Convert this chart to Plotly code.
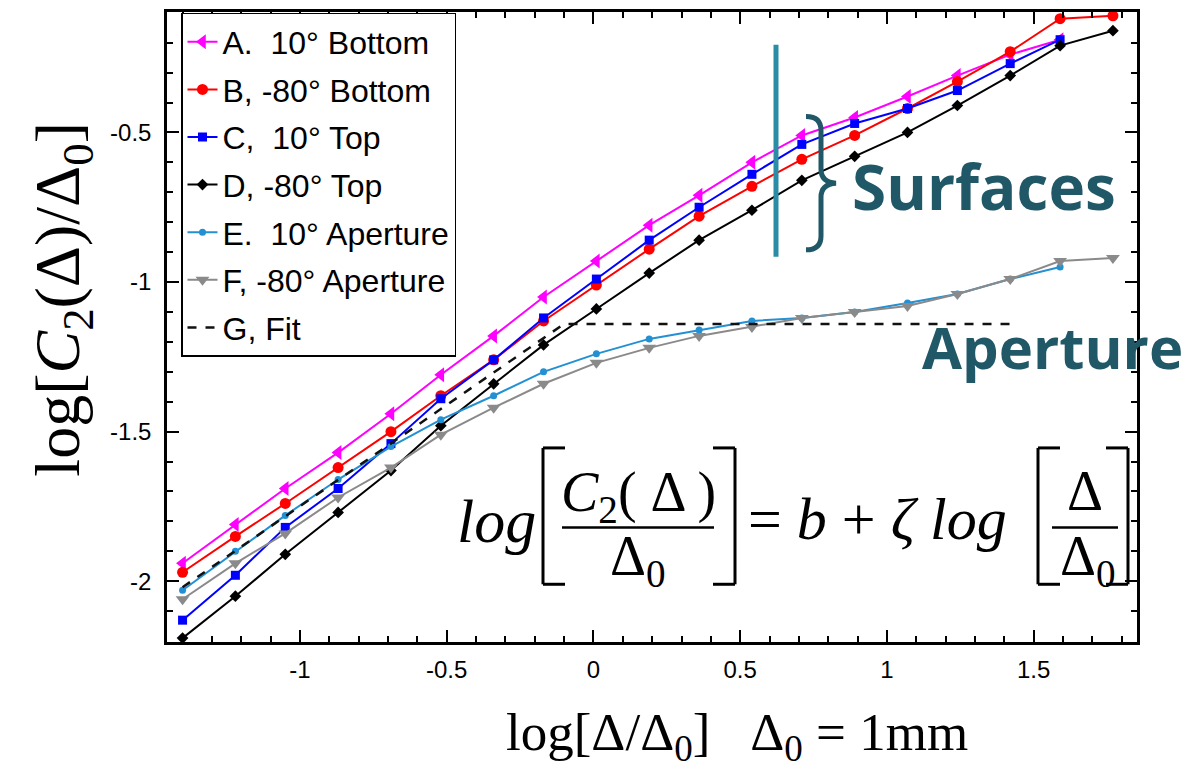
import plotly.graph_objects as go

# ---------------- data ----------------
x_log = [-1.40, -1.22, -1.05, -0.87, -0.69, -0.52, -0.34, -0.17, 0.01, 0.19,
         0.36, 0.54, 0.71, 0.89, 1.07, 1.24, 1.42, 1.59, 1.77]

a_10_bottom = [-1.94, -1.81, -1.69, -1.57, -1.44, -1.31, -1.18, -1.05, -0.93, -0.81,
               -0.71, -0.60, -0.51, -0.45, -0.38, -0.31, -0.24, -0.19]
b_80_bottom = [-1.97, -1.85, -1.74, -1.62, -1.50, -1.38, -1.26, -1.13, -1.01, -0.89,
               -0.78, -0.68, -0.59, -0.51, -0.42, -0.33, -0.23, -0.12, -0.11]
c_10_top = [-2.13, -1.98, -1.82, -1.69, -1.54, -1.39, -1.26, -1.12, -0.99, -0.86,
            -0.75, -0.64, -0.54, -0.47, -0.42, -0.36, -0.27, -0.19]
d_80_top = [-2.19, -2.05, -1.91, -1.77, -1.63, -1.48, -1.34, -1.21, -1.09, -0.97,
            -0.86, -0.76, -0.66, -0.58, -0.50, -0.41, -0.31, -0.21, -0.16]
e_10_aperture = [-2.03, -1.90, -1.78, -1.66, -1.55, -1.46, -1.38, -1.30, -1.24, -1.19,
                 -1.16, -1.13, -1.12, -1.10, -1.07, -1.04, -0.99, -0.95]
f_80_aperture = [-2.06, -1.94, -1.84, -1.72, -1.62, -1.51, -1.42, -1.34, -1.27, -1.22,
                 -1.18, -1.15, -1.12, -1.10, -1.08, -1.04, -0.99, -0.93, -0.92]
fit_x = [-1.40, -0.10, 1.44]
fit_y = [-2.02, -1.14, -1.14]

series_names = ["A.  10° Bottom", "B, -80° Bottom", "C,  10° Top", "D, -80° Top",
                "E.  10° Aperture", "F, -80° Aperture", "G, Fit"]
x_ticks = [-1, -0.5, 0, 0.5, 1, 1.5]
x_tick_labels = ["-1", "-0.5", "0", "0.5", "1", "1.5"]
y_ticks = [-2, -1.5, -1, -0.5]
y_tick_labels = ["-2", "-1.5", "-1", "-0.5"]

# ---------------- layout helpers (pixel -> paper) ----------------
W, H = 1191, 773
L, R, T, B = 167, 1137, 9, 642


def px(x):
    return (x - L) / (R - L)


def py(y):
    return (B - y) / (B - T)


fig = go.Figure()

styles = [
    (a_10_bottom, "#ff00ff", "triangle-left", 13),
    (b_80_bottom, "#ff0000", "circle", 11),
    (c_10_top, "#0000ff", "square", 9),
    (d_80_top, "#000000", "diamond", 9),
    (e_10_aperture, "#2290d2", "circle", 7),
    (f_80_aperture, "#8a8a8a", "triangle-down", 12),
]
for i, (vals, col, sym, sz) in enumerate(styles):
    fig.add_trace(go.Scatter(
        x=x_log[:len(vals)], y=vals, name=series_names[i], mode="lines+markers",
        line=dict(color=col, width=2), legendgroup=str(i),
        marker=dict(color=col, symbol=sym, size=sz, line=dict(width=0)),
    ))
fig.add_trace(go.Scatter(
    x=fit_x, y=fit_y, name=series_names[6], mode="lines", legendgroup="6",
    line=dict(color="#111111", width=2.5, dash="dash"),
))

serif = "Liberation Serif"
sans = "Liberation Sans"
teal = "#2a8ca5"
dark_teal = "#205868"

annotations = []
shapes = []


def text(x, y, s, size, family=serif, color="black", angle=0, xanchor="center"):
    annotations.append(dict(
        x=px(x), y=py(y), xref="paper", yref="paper", text=s, showarrow=False,
        font=dict(family=family, size=size, color=color), textangle=angle,
        xanchor=xanchor, yanchor="middle"))


def line(x0, y0, x1, y1, w=3, color="black"):
    shapes.append(dict(type="line", xref="paper", yref="paper",
                       x0=px(x0), y0=py(y0), x1=px(x1), y1=py(y1),
                       line=dict(color=color, width=w)))


def bracket(x, y0, y1, serif_len, w=3):
    line(x, y0, x, y1, w)
    line(x, y0, x + serif_len, y0, w)
    line(x, y1, x + serif_len, y1, w)


# axis titles
text(737, 736, "log[Δ/Δ<sub>0</sub>]   Δ<sub>0</sub> = 1mm", 53)
text(62, 298, "log[<i>C</i><sub>2</sub>(Δ)/Δ<sub>0</sub>]", 64, angle=-90)

# equation
text(496, 520, "<i>log</i>", 62)
bracket(543, 447, 584, 22)
bracket(735, 447, 584, -22)
text(638, 495, "<i>C</i><sub>2</sub>( Δ )", 56)
line(562, 527, 714, 527, 2.5)
text(638, 560, "Δ<sub>0</sub>", 56)
text(746, 518, "= <i>b</i> + <i>ζ</i> <i>log</i>", 60, xanchor="left")
bracket(1038, 447, 584, 22)
bracket(1128, 447, 584, -22)
text(1085, 490, "Δ", 56)
line(1052, 527, 1118, 527, 2.5)
text(1088, 560, "Δ<sub>0</sub>", 56)

# surface / aperture labels
line(776, 42, 776, 255, 5, teal)
bx0, bx1, tip = 806, 821, 836
ytop, ymid, ybot = 114, 181, 248
path = "M {},{} Q {},{} {},{} L {},{} Q {},{} {},{} Q {},{} {},{} L {},{} Q {},{} {},{}".format(
    px(bx0), py(ytop), px(bx1), py(ytop), px(bx1), py(ytop + 14),
    px(bx1), py(ymid - 14), px(bx1), py(ymid - 1), px(tip), py(ymid),
    px(bx1), py(ymid + 1), px(bx1), py(ymid + 14),
    px(bx1), py(ybot - 14), px(bx1), py(ybot), px(bx0), py(ybot))
shapes.append(dict(type="path", xref="paper", yref="paper", path=path,
                   line=dict(color=dark_teal, width=5)))
text(984, 184, "<b>Surfaces</b>", 62, family="Open Sans", color=dark_teal)
text(1052, 345, "<b>Aperture</b>", 58, family="Open Sans", color=dark_teal)

axis_common = dict(
    showgrid=False, zeroline=False, showline=True, linecolor="black", linewidth=2.5,
    mirror="ticks", ticks="inside", ticklen=12, tickwidth=2, tickcolor="black",
    tickfont=dict(family=sans, size=24, color="black"),
    minor=dict(ticks="inside", ticklen=6, tickwidth=1.5, tickcolor="black", dtick=0.1),
)

fig.update_layout(
    width=W, height=H,
    margin=dict(l=L, r=W - R, t=T, b=H - B, pad=0),
    paper_bgcolor="white", plot_bgcolor="white",
    xaxis=dict(range=[-1.453, 1.852], tickvals=x_ticks, ticktext=x_tick_labels,
               ticklabelstandoff=4, **axis_common),
    yaxis=dict(range=[-2.203, -0.0975], tickvals=y_ticks, ticktext=y_tick_labels,
               ticklabelstandoff=8, **axis_common),
    legend=dict(x=px(181), y=py(10), xanchor="left", yanchor="top",
                bgcolor="white", bordercolor="black", borderwidth=1.5,
                font=dict(family=sans, size=32, color="black"),
                tracegroupgap=3, itemwidth=30),
    showlegend=True,
    annotations=annotations, shapes=shapes,
)

fig.write_html("out.html")
